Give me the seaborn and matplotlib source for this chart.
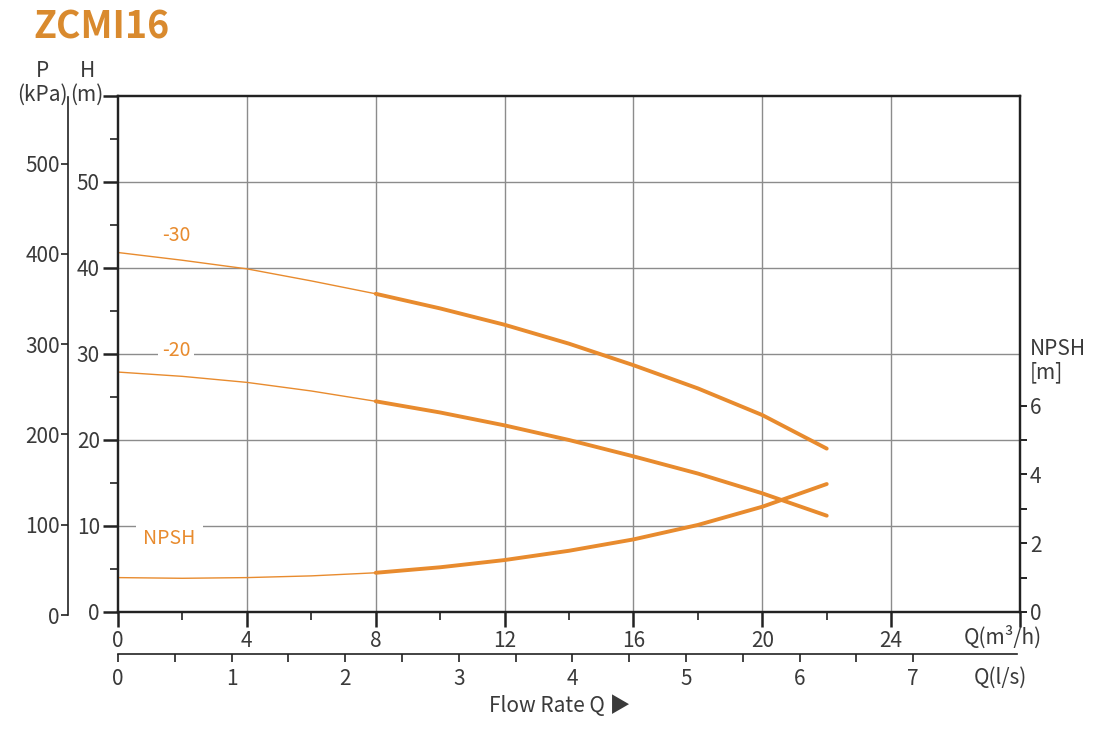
import numpy as np
import pandas as pd
import seaborn as sns
from matplotlib import pyplot as plt
from matplotlib.ticker import FixedLocator

# curve values (Q in m3/h)
q = [0, 2, 4, 6, 8, 10, 12, 14, 16, 18, 20, 22]
h_30 = [41.8, 40.9, 39.9, 38.5, 37.0, 35.3, 33.4, 31.2, 28.7, 26.0, 22.9, 19.0]
h_20 = [27.9, 27.4, 26.7, 25.7, 24.5, 23.2, 21.7, 20.0, 18.1, 16.1, 13.8, 11.2]
npsh = [1.0, 0.98, 1.0, 1.05, 1.14, 1.3, 1.51, 1.78, 2.11, 2.53, 3.06, 3.72]

h_ticks = [0, 10, 20, 30, 40, 50, 60]
h_labels = ["0", "10", "20", "30", "40", "50", ""]
p_ticks = [0, 100, 200, 300, 400, 500]
q_ticks = [0, 4, 8, 12, 16, 20, 24, 28]
q_labels = ["0", "4", "8", "12", "16", "20", "24", ""]
ls_ticks = [0, 1, 2, 3, 4, 5, 6, 7]
npsh_ticks = [0, 1, 2, 3, 4, 5, 6]
npsh_labels = ["0", "", "2", "", "4", "", "6"]

orange = "#E88B2E"
title_col = "#D98A2E"
txt = "#3a3a3a"
dark = "#222222"
grid_col = "#8c8c8c"

sns.set_style("white")
plt.rcParams["font.family"] = ["Noto Sans CJK SC", "DejaVu Sans"]

df = pd.DataFrame({"q": q, "h30": h_30, "h20": h_20, "npsh": npsh})
thin = df[df["q"] <= 8]
thick = df[df["q"] >= 8]

fig = plt.figure(figsize=(11, 7.3), dpi=100)
W, H = 1100, 730
ax = fig.add_axes([118 / W, (H - 612) / H, 902 / W, 516 / H])
ax2 = ax.twinx()

# grid
for g in [10, 20, 30, 40, 50]:
    ax.axhline(g, color=grid_col, lw=1.0, zorder=1)
for g in [4, 8, 12, 16, 20, 24]:
    ax.axvline(g, color=grid_col, lw=1.0, zorder=1)

for col in ["h30", "h20"]:
    sns.lineplot(data=thin, x="q", y=col, ax=ax, color=orange, lw=1.0, zorder=3)
    sns.lineplot(data=thick, x="q", y=col, ax=ax, color=orange, lw=2.8, zorder=3)
sns.lineplot(data=thin, x="q", y="npsh", ax=ax2, color=orange, lw=1.0, zorder=3)
sns.lineplot(data=thick, x="q", y="npsh", ax=ax2, color=orange, lw=2.8, zorder=3)

ax.set_xlim(0, 28)
ax.set_ylim(0, 60)
ax2.set_ylim(0, 15)
ax.set_xlabel("")
ax.set_ylabel("")
ax2.set_ylabel("")

box = dict(facecolor="white", edgecolor="none", pad=3)
ax.text(1.8, 43.8, "-30", color=orange, fontsize=14, ha="center", va="center", zorder=5)
ax.text(1.8, 30.35, "-20", color=orange, fontsize=14, ha="center", va="center", zorder=5, bbox=box)
ax.text(1.6, 8.6, "NPSH", color=orange, fontsize=14, ha="center", va="center", zorder=5,
        bbox=dict(facecolor="white", edgecolor="none", pad=5))

# main axes ticks
ax.yaxis.set_major_locator(FixedLocator(h_ticks))
ax.set_yticklabels(h_labels)
ax.yaxis.set_minor_locator(FixedLocator([5, 15, 25, 35, 45, 55]))
ax.xaxis.set_major_locator(FixedLocator(q_ticks))
ax.set_xticklabels(q_labels)
ax.xaxis.set_minor_locator(FixedLocator([2, 6, 10, 14, 18, 22]))
ax.tick_params(which="major", direction="out", length=11, width=1.8, color=dark,
               labelsize=15, labelcolor=txt, pad=2)
ax.tick_params(which="minor", direction="out", length=5.5, width=1.2, color=dark)
ax.tick_params(axis="x", which="both", bottom=True, top=False)
ax.tick_params(axis="y", which="both", left=True, right=False)

ax2.yaxis.set_major_locator(FixedLocator(npsh_ticks))
ax2.set_yticklabels(npsh_labels)
ax2.tick_params(axis="y", direction="out", length=5, width=1.4, color=dark, right=True,
                labelsize=15, labelcolor=txt, pad=2)

for a in (ax, ax2):
    for s in a.spines.values():
        s.set_color(dark)
        s.set_linewidth(1.6)
        s.set_zorder(4)

# pressure axis
axp = fig.add_axes([68 / W, (H - 615) / H, 1 / W, 518 / H])
axp.set_ylim(0, 518 / 0.903)
axp.set_xticks([])
axp.yaxis.set_major_locator(FixedLocator(p_ticks))
axp.tick_params(axis="y", direction="out", length=5, width=1.2, color=dark, left=True,
                labelsize=15, labelcolor=txt, pad=1)
for k, s in axp.spines.items():
    s.set_visible(k == "left")
axp.spines["left"].set_color(dark)
axp.spines["left"].set_linewidth(1.2)
axp.patch.set_visible(False)

# l/s axis
axl = fig.add_axes([118 / W, (H - 654) / H, 899 / W, 1 / H])
axl.set_xlim(0, 899 / 113.6)
axl.set_yticks([])
axl.xaxis.set_major_locator(FixedLocator(ls_ticks))
axl.xaxis.set_minor_locator(FixedLocator([0.5, 1.5, 2.5, 3.5, 4.5, 5.5, 6.5]))
axl.tick_params(axis="x", which="both", direction="out", length=6, width=1.2, color=dark,
                bottom=True, labelsize=15, labelcolor=txt, pad=4)
for k, s in axl.spines.items():
    s.set_visible(k == "bottom")
axl.spines["bottom"].set_color(dark)
axl.spines["bottom"].set_linewidth(1.2)
axl.patch.set_visible(False)

# texts
fig.text(33 / W, 1 - 27 / H, "ZCMI16", color=title_col, fontsize=27, fontweight="bold",
         ha="left", va="center")
fig.text(42 / W, 1 - 83 / H, "P\n(kPa)", color=txt, fontsize=15, ha="center", va="center",
         linespacing=1.1)
fig.text(87 / W, 1 - 83 / H, "H\n(m)", color=txt, fontsize=15, ha="center", va="center",
         linespacing=1.1)
fig.text(1030 / W, 1 - 361 / H, "NPSH\n[m]", color=txt, fontsize=15, ha="left", va="center",
         linespacing=1.1)
fig.text(1003 / W, 1 - 637 / H, "Q(m³/h)", color=txt, fontsize=15, ha="center", va="center")
fig.text(1000 / W, 1 - 678 / H, "Q(l/s)", color=txt, fontsize=15, ha="center", va="center")
fig.text(560 / W, 1 - 706 / H, "Flow Rate Q ▶", color=txt, fontsize=15, ha="center", va="center")

fig.savefig("out.png", dpi=100)
